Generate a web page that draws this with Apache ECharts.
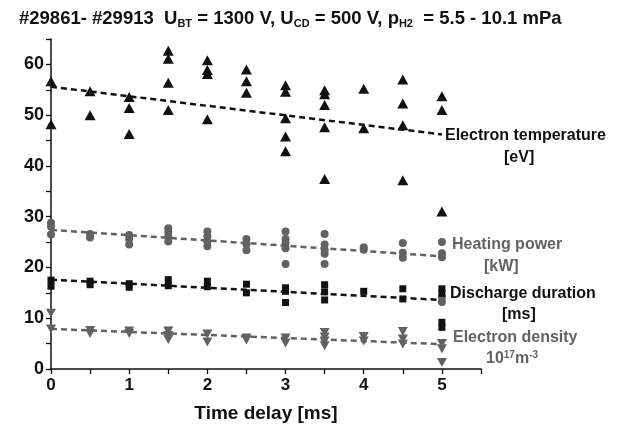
<!DOCTYPE html>
<html><head><meta charset="utf-8">
<script src="https://cdn.jsdelivr.net/npm/echarts@6/dist/echarts.min.js"></script>
<style>html,body{margin:0;padding:0;background:#fff}#c{width:623px;height:428px}</style>
</head><body><div id="c"></div>
<script>
const xTicks = [0, 1, 2, 3, 4, 5];
const yTicks = [0, 10, 20, 30, 40, 50, 60];

const tempPoints = [
  [0,56.7],[0,48.2],
  [0.5,54.7],[0.5,50.0],
  [1,53.6],[1,51.4],[1,46.3],
  [1.5,62.7],[1.5,61.1],[1.5,56.4],[1.5,51.0],
  [2,60.8],[2,58.9],[2,58.1],[2,49.2],
  [2.5,59.0],[2.5,56.7],[2.5,54.4],
  [3,55.9],[3,54.6],[3,49.4],[3,45.8],[3,42.9],
  [3.5,54.9],[3.5,54.1],[3.5,52.0],[3.5,47.6],[3.5,37.4],
  [4,55.2],[4,47.4],
  [4.5,57.0],[4.5,52.3],[4.5,48.0],[4.5,37.2],
  [5,53.7],[5,51.0],[5,31.0]
];
const heatPoints = [
  [0,28.8],[0,28.0],[0,26.5],
  [0.5,26.6],[0.5,25.9],
  [1,26.4],[1,25.6],[1,24.5],
  [1.5,27.7],[1.5,27.0],[1.5,26.1],[1.5,25.1],
  [2,27.1],[2,26.1],[2,25.1],[2,24.2],
  [2.5,25.6],[2.5,24.6],[2.5,23.4],
  [3,27.1],[3,25.6],[3,24.8],[3,23.8],[3,20.7],
  [3.5,26.6],[3.5,24.5],[3.5,23.5],[3.5,22.7],[3.5,20.7],
  [4,24.0],[4,23.5],
  [4.5,24.8],[4.5,22.9],[4.5,21.9],
  [5,25.0],[5,22.8],[5,22.0],[5,14.2],[5,13.2]
];
const dischPoints = [
  [0,17.5],[0,16.3],
  [0.5,17.3],[0.5,16.6],
  [1,16.8],[1,16.1],
  [1.5,17.6],[1.5,16.4],
  [2,17.3],[2,16.2],
  [2.5,16.7],[2.5,15.0],
  [3,16.0],[3,15.3],[3,13.1],
  [3.5,16.6],[3.5,15.2],[3.5,13.6],
  [4,15.3],
  [4.5,15.8],[4.5,13.8],
  [5,15.8],[5,14.9],[5,9.2],[5,8.2]
];
const densPoints = [
  [0,11.0],[0,7.9],
  [0.5,7.6],[0.5,7.0],
  [1,7.5],[1,7.0],
  [1.5,7.5],[1.5,6.6],[1.5,5.8],
  [2,6.9],[2,5.3],
  [2.5,6.1],[2.5,5.7],
  [3,6.1],[3,5.1],
  [3.5,7.2],[3.5,6.3],[3.5,5.5],[3.5,4.6],
  [4,6.4],[4,5.5],
  [4.5,7.4],[4.5,5.9],[4.5,4.9],
  [5,5.0],[5,4.0],[5,1.3]
];
const tempTrend = [[0,55.6],[5,46.2]];
const heatTrend = [[0,27.4],[5,22.2]];
const dischTrend = [[0,17.6],[5,13.6]];
const densTrend = [[0,7.9],[5,4.9]];

const BLACK = '#111111';
const GRAY = '#626262';
const FONT = '"Liberation Sans", Arial, sans-serif';

function trend(data, color) {
  return {type:'line', data, showSymbol:false, silent:true, z:1,
    lineStyle:{color, width:2.5, type:[6,4]}};
}
function scatter(data, color, symbol, size, rotate) {
  return {type:'scatter', data, symbol, symbolSize:size, symbolRotate:rotate||0, z:3,
    itemStyle:{color, opacity:1}};
}
function lbl(x, y, text, color) {
  return {type:'text', left:x, top:y, z:10, style:{text, fill:color, font:'bold 16px '+FONT}};
}

const chart = echarts.init(document.getElementById('c'), null, {renderer:'canvas'});
chart.setOption({
  animation:false,
  backgroundColor:'#fff',
  title:{
    left:14, top:4,
    text:'#29861- #29913  U{sub|BT} = 1300 V, U{sub|CD} = 500 V, p{sub|H2}  = 5.5 - 10.1 mPa',
    textStyle:{fontFamily:FONT, fontWeight:'bold', fontSize:18.5, color:'#111',
      rich:{sub:{fontFamily:FONT, fontWeight:'bold', fontSize:11, color:'#111', verticalAlign:'bottom', padding:[9,0,0,0]}}}
  },
  grid:{left:51, right:142, top:39, bottom:56},
  xAxis:{type:'value', min:0, max:5.5, interval:0.5,
    name:'Time delay [ms]', nameLocation:'middle', nameGap:35,
    nameTextStyle:{fontFamily:FONT, fontWeight:'bold', fontSize:19, color:'#111'},
    axisLine:{lineStyle:{color:'#111', width:1.5}},
    axisTick:{show:true, length:5, lineStyle:{color:'#111', width:1.3}},
    axisLabel:{fontFamily:FONT, fontWeight:'bold', fontSize:17, color:'#111', margin:8,
      formatter:v => xTicks.includes(v) ? String(v) : ''},
    splitLine:{show:false}},
  yAxis:{type:'value', min:0, max:65, interval:5,
    axisLine:{show:true, lineStyle:{color:'#111', width:1.5}},
    axisTick:{show:true, length:5, lineStyle:{color:'#111', width:1.3}},
    axisLabel:{fontFamily:FONT, fontWeight:'bold', fontSize:18, color:'#111', margin:7,
      formatter:v => yTicks.includes(v) ? String(v) : ''},
    splitLine:{show:false}},
  series:[
    trend(tempTrend, BLACK), trend(heatTrend, GRAY), trend(dischTrend, BLACK), trend(densTrend, GRAY),
    scatter(tempPoints, BLACK, 'triangle', [11,10]),
    scatter(heatPoints, GRAY, 'circle', 8),
    scatter(dischPoints, BLACK, 'rect', 7),
    scatter(densPoints, GRAY, 'triangle', [10,9], 180)
  ],
  graphic:[
    lbl(445, 128, 'Electron temperature', BLACK),
    lbl(504, 150, '[eV]', BLACK),
    lbl(452, 237, 'Heating power', GRAY),
    lbl(484, 259, '[kW]', GRAY),
    lbl(450, 286, 'Discharge duration', BLACK),
    lbl(502, 307, '[ms]', BLACK),
    lbl(453, 330, 'Electron density', GRAY),
    {type:'text', left:486, top:350, z:10, style:{
      text:'10{sup|17}m{sup|-3}', fill:GRAY, font:'bold 16px '+FONT,
      rich:{sup:{fill:GRAY, font:'bold 10px '+FONT, verticalAlign:'top', padding:[0,0,8,0]}}}}
  ]
});
</script></body></html>
